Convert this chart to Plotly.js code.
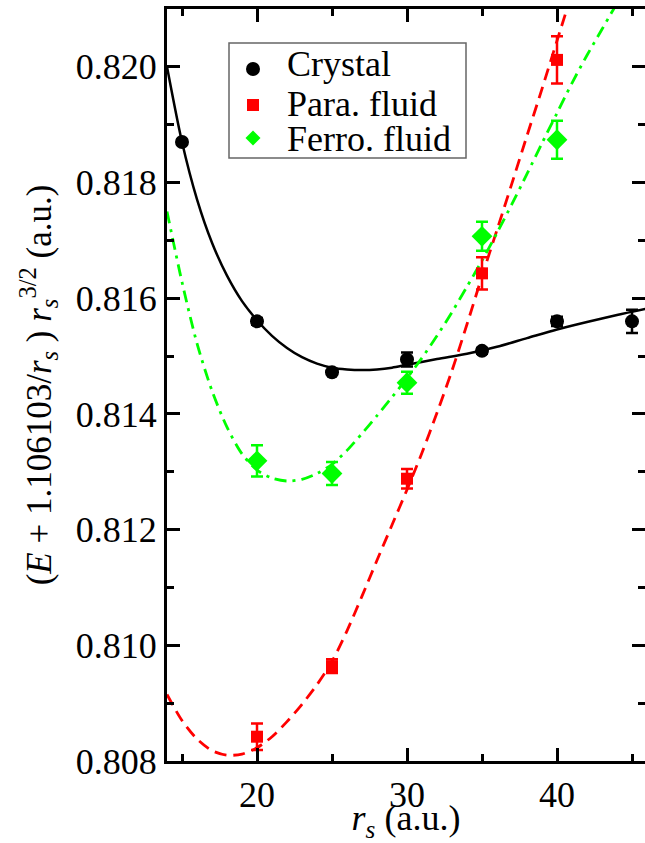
<!DOCTYPE html>
<html>
<head>
<meta charset="utf-8">
<script src="https://cdn.plot.ly/plotly-3.0.1.min.js"></script>
</head>
<body style="margin:0">
<div id="chart"></div>
<script>
// Data points
const crystalX = [15, 20, 25, 30, 35, 40, 45];
const crystalY = [0.81870, 0.81560, 0.81472, 0.81494, 0.81509, 0.81560, 0.81560];
const crystalErr = [0.00004, 0.00006, 0.00003, 0.00012, 0.00005, 0.00008, 0.00020];

const paraX = [20, 25, 30, 35, 40];
const paraY = [0.80842, 0.80964, 0.81288, 0.81643, 0.82012];
const paraErr = [0.00023, 0.00012, 0.00017, 0.00028, 0.00041];

const ferroX = [20, 25, 30, 35, 40];
const ferroY = [0.81319, 0.81297, 0.81454, 0.81707, 0.81874];
const ferroErr = [0.00027, 0.00020, 0.00019, 0.00025, 0.00033];

// Fit curves
const crystalFitX = [14, 15, 16, 17, 18, 19, 20, 21, 22, 23, 24, 25, 26, 27, 28, 29, 30, 32, 34, 36, 38, 40, 42, 44, 46];
const crystalFitY = [0.82000, 0.81870, 0.81771, 0.81696, 0.81639, 0.81595, 0.81562, 0.81535, 0.81514, 0.81498, 0.81487, 0.81480, 0.81477, 0.81476, 0.81477, 0.81480, 0.81485, 0.81495, 0.81504, 0.81516, 0.81531, 0.81546, 0.81559, 0.81571, 0.81582];

const paraFitX = [14, 15, 16, 17, 18, 19, 20, 21, 22, 23, 24, 25, 26, 27, 28, 29, 30, 31, 32, 33, 34, 35, 36, 37, 38, 39, 40, 41];
const paraFitY = [0.80915, 0.80870, 0.80838, 0.80818, 0.80810, 0.80812, 0.80823, 0.80842, 0.80868, 0.80898, 0.80932, 0.80972, 0.81025, 0.81085, 0.81147, 0.81208, 0.81269, 0.81333, 0.81402, 0.81475, 0.81555, 0.81638, 0.81718, 0.81799, 0.81881, 0.81962, 0.82045, 0.82128];

const ferroFitX = [14, 15, 16, 17, 18, 19, 20, 21, 22, 23, 24, 25, 26, 27, 28, 29, 30, 31, 32, 33, 34, 35, 36, 37, 38, 39, 40, 41, 42, 43, 44];
const ferroFitY = [0.81750, 0.81628, 0.81522, 0.81440, 0.81377, 0.81331, 0.81303, 0.81289, 0.81284, 0.81287, 0.81297, 0.81313, 0.81337, 0.81366, 0.81397, 0.81429, 0.81462, 0.81497, 0.81535, 0.81576, 0.81620, 0.81665, 0.81713, 0.81763, 0.81815, 0.81868, 0.81920, 0.81972, 0.82020, 0.82065, 0.82110];

// Legend entries
const legendNames = ['Crystal', 'Para. fluid', 'Ferro. fluid'];
const legendColors = ['#000000', '#ff0000', '#00ff00'];

const FONT_FAMILY = 'Liberation Serif, serif';

const traces = [
  { x: crystalFitX, y: crystalFitY, mode: 'lines', line: { color: '#000000', width: 2.5, shape: 'spline', smoothing: 0.8 }, showlegend: false, hoverinfo: 'skip' },
  { x: paraFitX, y: paraFitY, mode: 'lines', line: { color: '#ff0000', width: 2.8, dash: '12px,7px', shape: 'spline', smoothing: 0.8 }, showlegend: false, hoverinfo: 'skip' },
  { x: ferroFitX, y: ferroFitY, mode: 'lines', line: { color: '#00ff00', width: 2.8, dash: '12px,6px,3px,6px', shape: 'spline', smoothing: 0.8 }, showlegend: false, hoverinfo: 'skip' },
  { x: crystalX, y: crystalY, name: legendNames[0], mode: 'markers', marker: { symbol: 'circle', color: legendColors[0], size: 14 },
    error_y: { type: 'data', array: crystalErr, color: legendColors[0], thickness: 2.5, width: 6 }, showlegend: false },
  { x: paraX, y: paraY, name: legendNames[1], mode: 'markers', marker: { symbol: 'square', color: legendColors[1], size: 12 },
    error_y: { type: 'data', array: paraErr, color: legendColors[1], thickness: 2.5, width: 6 }, showlegend: false },
  { x: ferroX, y: ferroY, name: legendNames[2], mode: 'markers', marker: { symbol: 'diamond', color: legendColors[2], size: 16 },
    error_y: { type: 'data', array: ferroErr, color: legendColors[2], thickness: 2.5, width: 6 }, showlegend: false }
];

// Hand-built legend (box, symbols, labels) in paper coordinates
const plotW = 478, plotH = 752, padL = 167, padT = 9;
const px2x = (px) => (px - padL) / plotW;
const px2y = (py) => (padT + plotH - py) / plotH;
const legX = px2x(253), textX = px2x(285);
const symY = [px2y(69), px2y(105), px2y(138)];
const txtY = [px2y(64), px2y(104), px2y(139)];
const shapes = [
  { type: 'rect', xref: 'paper', yref: 'paper', x0: px2x(229), x1: px2x(466), y0: px2y(158), y1: px2y(43),
    line: { color: '#666666', width: 1.5 }, fillcolor: '#ffffff', layer: 'above' },
  { type: 'circle', xref: 'paper', yref: 'paper', xsizemode: 'pixel', ysizemode: 'pixel',
    xanchor: legX, yanchor: symY[0], x0: -7, x1: 7, y0: -7, y1: 7,
    line: { width: 0 }, fillcolor: legendColors[0], layer: 'above' },
  { type: 'rect', xref: 'paper', yref: 'paper', xsizemode: 'pixel', ysizemode: 'pixel',
    xanchor: legX, yanchor: symY[1], x0: -6, x1: 6, y0: -6, y1: 6,
    line: { width: 0 }, fillcolor: legendColors[1], layer: 'above' },
  { type: 'path', xref: 'paper', yref: 'paper', xsizemode: 'pixel', ysizemode: 'pixel',
    xanchor: legX, yanchor: symY[2], path: 'M -7.5 0 L 0 7.5 L 7.5 0 L 0 -7.5 Z',
    line: { width: 0 }, fillcolor: legendColors[2], layer: 'above' }
];
const annotations = legendNames.map((t, i) => ({
  text: t, xref: 'paper', yref: 'paper', x: textX, y: txtY[i], xanchor: 'left', yanchor: 'middle',
  showarrow: false, font: { family: FONT_FAMILY, size: 36, color: '#000000' }
}));

const layout = {
  width: 645, height: 843,
  margin: { l: padL, r: 0, t: padT, b: 843 - padT - plotH },
  paper_bgcolor: '#ffffff', plot_bgcolor: '#ffffff',
  font: { family: FONT_FAMILY, size: 36, color: '#000000' },
  showlegend: false,
  shapes: shapes,
  annotations: annotations,
  xaxis: {
    range: [14, 14 + plotW / 15], dtick: 10, tick0: 0,
    showgrid: false, zeroline: false,
    showline: true, linecolor: '#000000', linewidth: 3, mirror: 'allticks',
    ticks: 'inside', ticklen: 13, tickwidth: 3, tickcolor: '#000000',
    minor: { dtick: 5, tick0: 0, ticklen: 7, tickwidth: 3, tickcolor: '#000000', ticks: 'inside', showgrid: false },
    tickfont: { family: FONT_FAMILY, size: 36, color: '#000000' },
    title: { text: '<i>r</i><sub><i>s</i></sub> (a.u.)', font: { family: FONT_FAMILY, size: 36, color: '#000000' }, standoff: 7 }
  },
  yaxis: {
    range: [0.808, 0.821], dtick: 0.002, tick0: 0.808, tickformat: '.3f',
    showgrid: false, zeroline: false,
    showline: true, linecolor: '#000000', linewidth: 3, mirror: 'allticks',
    ticks: 'inside', ticklen: 13, tickwidth: 3, tickcolor: '#000000',
    minor: { dtick: 0.001, tick0: 0.808, ticklen: 7, tickwidth: 3, tickcolor: '#000000', ticks: 'inside', showgrid: false },
    tickfont: { family: FONT_FAMILY, size: 36, color: '#000000' },
    title: { text: '(<i>E</i> + 1.106103/<i>r</i><sub><i>s</i></sub> ) <i>r</i><sub><i>s</i></sub><sup>3/2</sup> (a.u.)', font: { family: FONT_FAMILY, size: 35, color: '#000000' }, standoff: 14 }
  }
};

Plotly.newPlot('chart', traces, layout, { displayModeBar: false });
</script>
</body>
</html>
